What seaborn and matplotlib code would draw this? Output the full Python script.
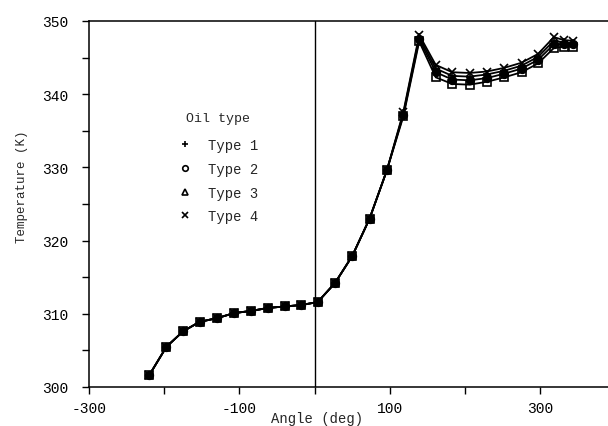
import matplotlib
matplotlib.use('Agg')
import matplotlib.pyplot as plt
from matplotlib.lines import Line2D
import pandas as pd
import seaborn as sns

# crank angle (deg)
angles = [-220, -197, -175, -153, -130, -107, -84, -62, -40, -18, 4, 27, 50, 73,
          96, 118, 139, 161, 183, 206, 229, 252, 275, 297, 318, 331, 343]

# common part of the curves (all oil types overlap up to ~96 deg)
common = [301.6, 305.5, 307.6, 308.9, 309.4, 310.1, 310.4, 310.8, 311.0, 311.2,
          311.6, 314.2, 317.9, 323.0, 329.6]

type1 = common + [337.4, 347.8, 343.5, 342.5, 342.4, 342.7, 343.2, 343.9, 345.1, 347.3, 347.1, 347.0]
type2 = common + [337.2, 347.5, 343.0, 342.0, 341.9, 342.2, 342.8, 343.5, 344.7, 346.8, 346.8, 346.8]
type3 = common + [337.0, 347.2, 342.3, 341.4, 341.3, 341.7, 342.3, 343.0, 344.2, 346.3, 346.5, 346.5]
type4 = common + [337.6, 348.1, 344.0, 343.0, 342.9, 343.1, 343.6, 344.3, 345.5, 347.8, 347.4, 347.3]

oil_types = ['Type 1', 'Type 2', 'Type 3', 'Type 4']
legend_markers = ['+', 'o', '^', 'x']
# markers as they actually show up on the curves (open squares on the lowest one)
plot_markers = ['+', 'o', 's', 'x']
plot_fills = ['none', 'black', 'none', 'none']

frames = []
for name, temps in zip(oil_types, [type1, type2, type3, type4]):
    frames.append(pd.DataFrame({'angle': angles, 'temp': temps, 'oil': name}))
df = pd.concat(frames, ignore_index=True)

sns.set_style('ticks')
plt.rcParams['font.family'] = ['Liberation Mono', 'DejaVu Sans Mono']

fig = plt.figure(figsize=(6.08, 4.27), dpi=100)
ax = fig.add_axes([89 / 608, 39 / 427, 519 / 608, 366 / 427])

for name, m, fc in zip(oil_types, plot_markers, plot_fills):
    sns.lineplot(data=df[df['oil'] == name], x='angle', y='temp', marker=m,
                 color='black', linewidth=1.3, markersize=5.5,
                 markeredgecolor='black', markerfacecolor=fc,
                 markeredgewidth=1.2, legend=False, ax=ax)

ax.axvline(0, color='black', linewidth=1.0)

ax.set_xlim(-300, 390)
ax.set_ylim(300, 350)
ax.set_xticks([-300, -200, -100, 0, 100, 200, 300])
ax.set_xticklabels(['-300', '', '-100', '', '100', '', '300'])
ax.set_yticks([300, 310, 320, 330, 340, 350])
ax.set_yticks([305, 315, 325, 335, 345], minor=True)
ax.tick_params(axis='both', which='both', direction='out', length=5, width=1.0,
               labelsize=10.5, colors='black')
ax.tick_params(axis='x', pad=5)
ax.tick_params(axis='y', pad=10)

for side in ['left', 'bottom', 'top']:
    ax.spines[side].set_color('black')
    ax.spines[side].set_linewidth(1.1)
ax.spines['right'].set_visible(False)

ax.set_xlabel('Angle (deg)', fontsize=10)
ax.set_ylabel('Temperature (K)', fontsize=9)
ax.xaxis.set_label_coords(0.44, -0.065)
ax.yaxis.set_label_coords(-0.117, 0.55)

handles = [Line2D([], [], color='black', marker=m, linestyle='none', markersize=4,
                  markerfacecolor='none', markeredgewidth=1.2) for m in legend_markers]
leg = ax.legend(handles, oil_types, title='Oil type', frameon=False,
                loc='upper left', bbox_to_anchor=(0.147, 0.785), fontsize=10,
                title_fontsize=9.5, handlelength=1.0, handletextpad=1.2,
                labelspacing=0.7)
leg._legend_box.sep = 10

fig.savefig('out.png', dpi=100)
